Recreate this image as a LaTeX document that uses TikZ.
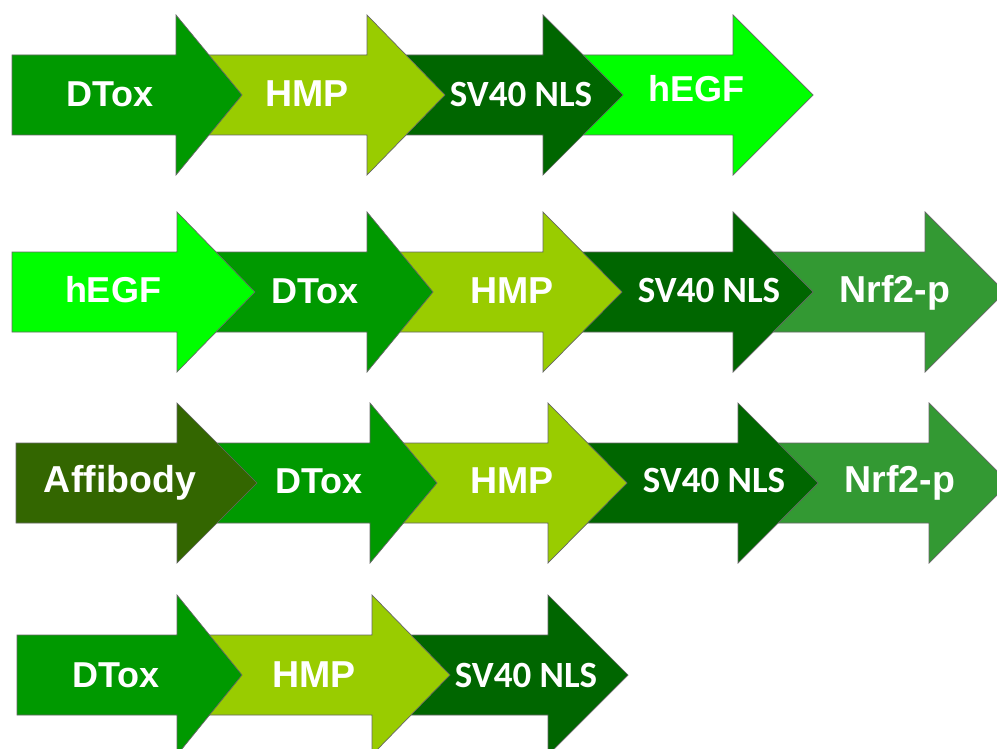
\documentclass[tikz,border=0pt]{standalone}
\usepackage{fontspec}
\setmainfont{Liberation Sans}
\newfontfamily\calfont{Carlito}
\definecolor{cDTox}{HTML}{009900}
\definecolor{cHMP}{HTML}{99CC00}
\definecolor{cSV}{HTML}{006600}
\definecolor{cEGF}{HTML}{00FF00}
\definecolor{cNrf}{HTML}{339933}
\definecolor{cAff}{HTML}{336600}
\newcommand{\blockarrow}[5]{% x0, xbase, xtip, ycenter, colour
  \filldraw[arrowbody, fill=#5] (#1,#4-40) -- (#2,#4-40) -- (#2,#4-80) -- (#3,#4)
    -- (#2,#4+80) -- (#2,#4+40) -- (#1,#4+40) -- cycle;}
\tikzset{
  arrowbody/.style={draw=black!60, line width=0.7pt, line join=miter},
  lbl/.style={text=white, inner sep=0pt, anchor=base,
    font=\bfseries\fontsize{36}{40}\selectfont},
  biglbl/.style={lbl, font=\bfseries\fontsize{37.5}{40}\selectfont},
  svlbl/.style={lbl, font=\calfont\bfseries\fontsize{37}{40}\selectfont}
}
\begin{document}
\begin{tikzpicture}[x=1pt,y=-1pt]
\useasboundingbox (0,0) rectangle (997,749);
\clip (0,0) rectangle (997,749);
\fill[white] (0,0) rectangle (997,749);

% Row 1
\blockarrow{543}{733}{813}{95}{cEGF}
\blockarrow{367}{543}{623}{95}{cSV}
\blockarrow{176}{367}{445}{95}{cHMP}
\blockarrow{12}{176}{242}{95}{cDTox}
\node[lbl]    (r1dtox) at (110,107) {DTox};
\node[biglbl] (r1hmp)  at (307,107) {HMP};
\node[svlbl]  (r1sv)   at (521,107) {SV40 NLS};
\node[lbl]    (r1egf)  at (696,102) {hEGF};

% Row 2
\blockarrow{733}{925}{1005}{292}{cNrf}
\blockarrow{543}{733}{813}{292}{cSV}
\blockarrow{367}{543}{622}{292}{cHMP}
\blockarrow{177}{367}{433}{292}{cDTox}
\blockarrow{12}{177}{255}{292}{cEGF}
\node[lbl]    (r2egf)  at (113,302) {hEGF};
\node[lbl]    (r2dtox) at (315,303) {DTox};
\node[biglbl] (r2hmp)  at (512,303) {HMP};
\node[svlbl]  (r2sv)   at (709,302) {SV40 NLS};
\node[biglbl] (r2nrf)  at (895,302) {Nrf2-p};

% Row 3
\blockarrow{738}{929}{1009}{483}{cNrf}
\blockarrow{548}{738}{818}{483}{cSV}
\blockarrow{370}{548}{627}{483}{cHMP}
\blockarrow{177}{370}{437}{483}{cDTox}
\blockarrow{16}{177}{257}{483}{cAff}
\node[biglbl] (r3aff)  at (120,492) {Affibody};
\node[lbl]    (r3dtox) at (319,493) {DTox};
\node[biglbl] (r3hmp)  at (512,493) {HMP};
\node[svlbl]  (r3sv)   at (714,492) {SV40 NLS};
\node[biglbl] (r3nrf)  at (900,492) {Nrf2-p};

% Row 4
\blockarrow{372}{548}{628}{675}{cSV}
\blockarrow{177}{372}{450}{675}{cHMP}
\blockarrow{17}{177}{242}{675}{cDTox}
\node[lbl]    (r4dtox) at (116,687) {DTox};
\node[biglbl] (r4hmp)  at (314,687) {HMP};
\node[svlbl]  (r4sv)   at (526,687) {SV40 NLS};
\end{tikzpicture}
\end{document}
